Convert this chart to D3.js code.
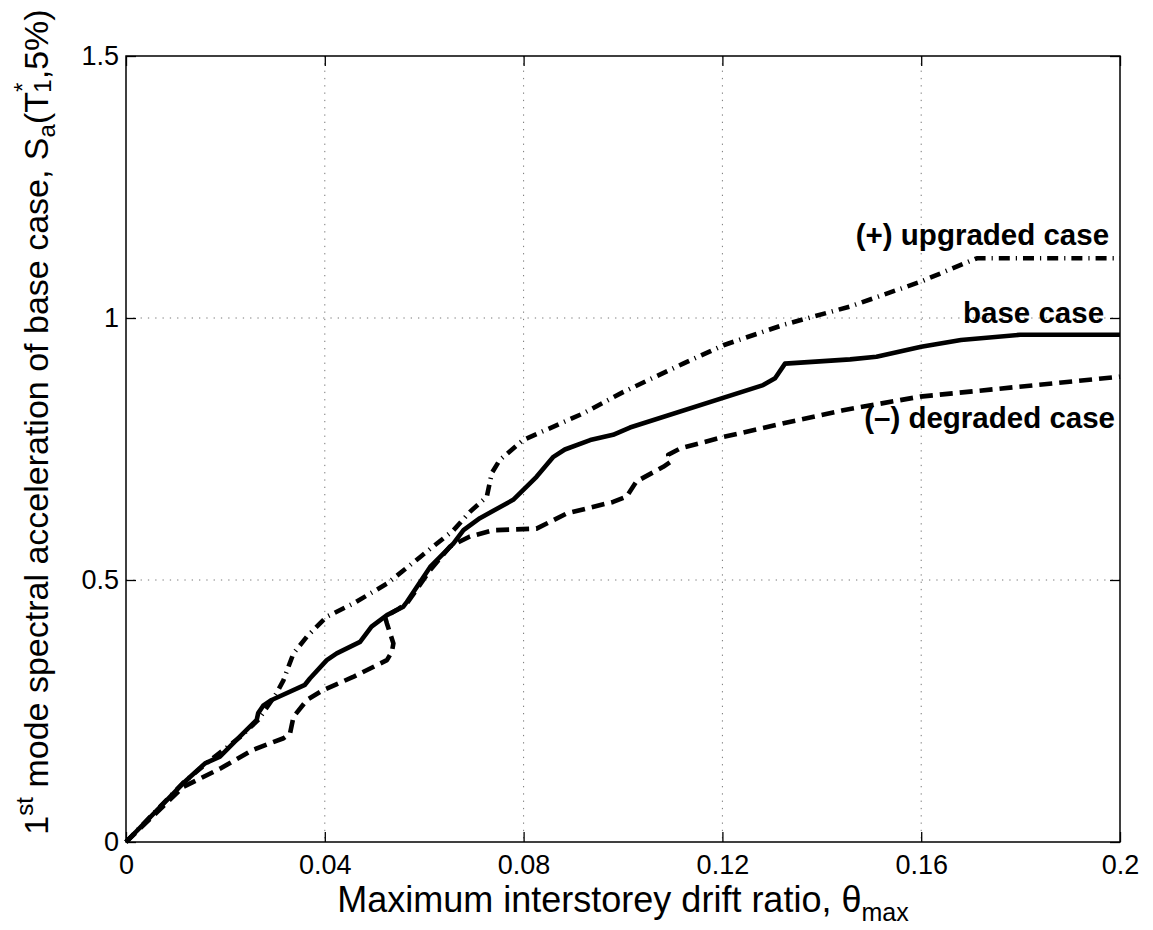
<!DOCTYPE html>
<html>
<head>
<meta charset="utf-8">
<script src="https://cdn.jsdelivr.net/npm/d3@7"></script>
<style>
  body { margin: 0; background: #fff; }
  svg { display: block; font-family: "Liberation Sans", Arial, sans-serif; }
</style>
</head>
<body>
<svg id="chart"></svg>
<script>
// drift ratio vs Sa
var baseTheta = [0, 0.0115, 0.0159, 0.0189, 0.0229, 0.0263, 0.0266, 0.0276, 0.0293, 0.0360, 0.0370,
  0.0404, 0.0424, 0.0471, 0.0494, 0.0525, 0.0558, 0.0565, 0.0612, 0.0659, 0.0679, 0.0712, 0.0779,
  0.0826, 0.0860, 0.0883, 0.0934, 0.0980, 0.1014, 0.1282, 0.1306, 0.1326, 0.1457, 0.1510, 0.1600,
  0.1680, 0.1799, 0.2000];
var baseSa = [0, 0.112, 0.150, 0.163, 0.201, 0.233, 0.246, 0.260, 0.271, 0.300, 0.312,
  0.347, 0.360, 0.382, 0.411, 0.433, 0.449, 0.458, 0.525, 0.570, 0.595, 0.618, 0.653,
  0.697, 0.735, 0.749, 0.767, 0.777, 0.791, 0.872, 0.885, 0.913, 0.921, 0.926, 0.945,
  0.958, 0.968, 0.968];

var upTheta = [0, 0.0115, 0.0159, 0.0229, 0.0266, 0.0303, 0.0317, 0.0327, 0.0337, 0.0364, 0.0404,
  0.0457, 0.0525, 0.0592, 0.0659, 0.0692, 0.0726, 0.0736, 0.0752, 0.0799, 0.0920, 0.1001,
  0.1121, 0.1202, 0.1323, 0.1457, 0.1598, 0.1712, 0.2000];
var upSa = [0, 0.113, 0.148, 0.200, 0.233, 0.284, 0.309, 0.335, 0.360, 0.392, 0.430,
  0.455, 0.493, 0.544, 0.595, 0.630, 0.659, 0.704, 0.729, 0.767, 0.818, 0.859,
  0.913, 0.948, 0.987, 1.022, 1.069, 1.114, 1.114];

var degTheta = [0, 0.0115, 0.0149, 0.0189, 0.0256, 0.0317, 0.0330, 0.0337, 0.0364, 0.0397, 0.0457,
  0.0525, 0.0535, 0.0538, 0.0525, 0.0521, 0.0545, 0.0565, 0.0612, 0.0652, 0.0692, 0.0739,
  0.0826, 0.0887, 0.0980, 0.1007, 0.1027, 0.1081, 0.1095, 0.1091, 0.1115, 0.1202, 0.1323,
  0.1443, 0.1598, 0.2000];
var degSa = [0, 0.105, 0.121, 0.140, 0.176, 0.198, 0.207, 0.239, 0.271, 0.290, 0.315,
  0.347, 0.363, 0.379, 0.417, 0.430, 0.443, 0.455, 0.519, 0.564, 0.583, 0.595,
  0.598, 0.627, 0.649, 0.659, 0.688, 0.716, 0.725, 0.739, 0.751, 0.773, 0.799,
  0.824, 0.850, 0.888];

var xTicks = [0, 0.04, 0.08, 0.12, 0.16, 0.2];
var xTickLabels = ["0", "0.04", "0.08", "0.12", "0.16", "0.2"];
var yTicks = [0, 0.5, 1, 1.5];
var yTickLabels = ["0", "0.5", "1", "1.5"];

var screen = {width: 1153, height: 930};
var margin = {left: 126, top: 56, right: 33, bottom: 88};
var w = screen.width - margin.left - margin.right;
var h = screen.height - margin.top - margin.bottom;

var svg = d3.select("#chart")
  .attr("width", screen.width)
  .attr("height", screen.height);

var xscale = d3.scaleLinear().domain([0, 0.2]).range([0, w]);
var yscale = d3.scaleLinear().domain([0, 1.5]).range([h, 0]);

var plot = svg.append("g")
  .attr("transform", "translate(" + margin.left + "," + margin.top + ")");

// dotted grid
plot.append("g").selectAll("line")
  .data(xTicks.slice(1, -1))
  .enter().append("line")
  .attr("x1", function(d) { return xscale(d); })
  .attr("x2", function(d) { return xscale(d); })
  .attr("y1", 0).attr("y2", h)
  .attr("stroke", "#777").attr("stroke-width", 1)
  .attr("stroke-dasharray", "1.3,6");
plot.append("g").selectAll("line")
  .data(yTicks.slice(1, -1))
  .enter().append("line")
  .attr("y1", function(d) { return yscale(d); })
  .attr("y2", function(d) { return yscale(d); })
  .attr("x1", 0).attr("x2", w)
  .attr("stroke", "#777").attr("stroke-width", 1)
  .attr("stroke-dasharray", "1.3,6");

var makePoints = function(xs, ys) {
  return xs.map(function(t, i) { return {x: t, y: ys[i]}; });
};

var line = d3.line()
  .x(function(d) { return xscale(d.x); })
  .y(function(d) { return yscale(d.y); });

var series = [
  {pts: makePoints(degTheta, degSa), dash: "13,7"},
  {pts: makePoints(upTheta, upSa), dash: "11,6,1.2,6"},
  {pts: makePoints(baseTheta, baseSa), dash: null}
];

series.forEach(function(s) {
  plot.append("path")
    .datum(s.pts)
    .attr("d", line)
    .attr("fill", "none")
    .attr("stroke", "#000")
    .attr("stroke-width", 4.6)
    .attr("stroke-linejoin", "round")
    .attr("stroke-dasharray", s.dash);
});

// axes, ticks pointing inwards
var fmtX = function(d, i) { return xTickLabels[i]; };
var fmtY = function(d, i) { return yTickLabels[i]; };

var styleAxis = function(g) {
  g.select(".domain").remove();
  g.selectAll(".tick line").attr("stroke", "#000").attr("stroke-width", 1.3);
  g.selectAll(".tick text").attr("fill", "#000").style("font-size", "27px")
    .style("font-family", "'Liberation Sans', Arial, sans-serif");
};

plot.append("g")
  .attr("transform", "translate(0," + h + ")")
  .call(d3.axisBottom(xscale).tickValues(xTicks).tickFormat(fmtX)
    .tickSizeInner(-10).tickSizeOuter(0).tickPadding(13))
  .call(styleAxis);
plot.append("g")
  .call(d3.axisTop(xscale).tickValues(xTicks).tickFormat("")
    .tickSizeInner(-10).tickSizeOuter(0))
  .call(styleAxis);
plot.append("g")
  .call(d3.axisLeft(yscale).tickValues(yTicks).tickFormat(fmtY)
    .tickSizeInner(-10).tickSizeOuter(0).tickPadding(7))
  .call(styleAxis);
plot.append("g")
  .attr("transform", "translate(" + w + ",0)")
  .call(d3.axisRight(yscale).tickValues(yTicks).tickFormat("")
    .tickSizeInner(-10).tickSizeOuter(0))
  .call(styleAxis);

plot.append("rect")
  .attr("width", w).attr("height", h)
  .attr("fill", "none").attr("stroke", "#000").attr("stroke-width", 1.5);

// curve labels
var labels = [
  {text: "(+) upgraded case", x: 0.1978, y: 1.139},
  {text: "base case", x: 0.1968, y: 0.991},
  {text: "(\u2013) degraded case", x: 0.1990, y: 0.790}
];
plot.append("g").selectAll("text")
  .data(labels)
  .enter().append("text")
  .attr("x", function(d) { return xscale(d.x); })
  .attr("y", function(d) { return yscale(d.y); })
  .attr("text-anchor", "end")
  .style("font-size", "29.5px")
  .style("font-weight", "bold")
  .text(function(d) { return d.text; });

// x axis title
var xt = svg.append("text")
  .attr("x", margin.left + w / 2)
  .attr("y", 912)
  .attr("text-anchor", "middle")
  .style("font-size", "36px");
xt.append("tspan").text("Maximum interstorey drift ratio, \u03b8");
xt.append("tspan").attr("dy", 9).style("font-size", "25px").text("max");

// y axis title
var yt = svg.append("text")
  .attr("transform", "translate(48," + (margin.top + 366) + ") rotate(-90)")
  .attr("text-anchor", "middle")
  .style("font-size", "34px");
yt.append("tspan").text("1");
yt.append("tspan").attr("dy", -15).style("font-size", "24px").text("st");
yt.append("tspan").attr("dy", 15).text(" mode spectral acceleration of base case, S");
yt.append("tspan").attr("dy", 7).style("font-size", "24px").text("a");
yt.append("tspan").attr("dy", -7).text("(T");
yt.append("tspan").attr("dy", -17).style("font-size", "24px").text("*");
yt.append("tspan").attr("dx", -10).attr("dy", 20).style("font-size", "24px").text("1");
yt.append("tspan").attr("dy", -3).text(",5%)");
</script>
</body>
</html>
